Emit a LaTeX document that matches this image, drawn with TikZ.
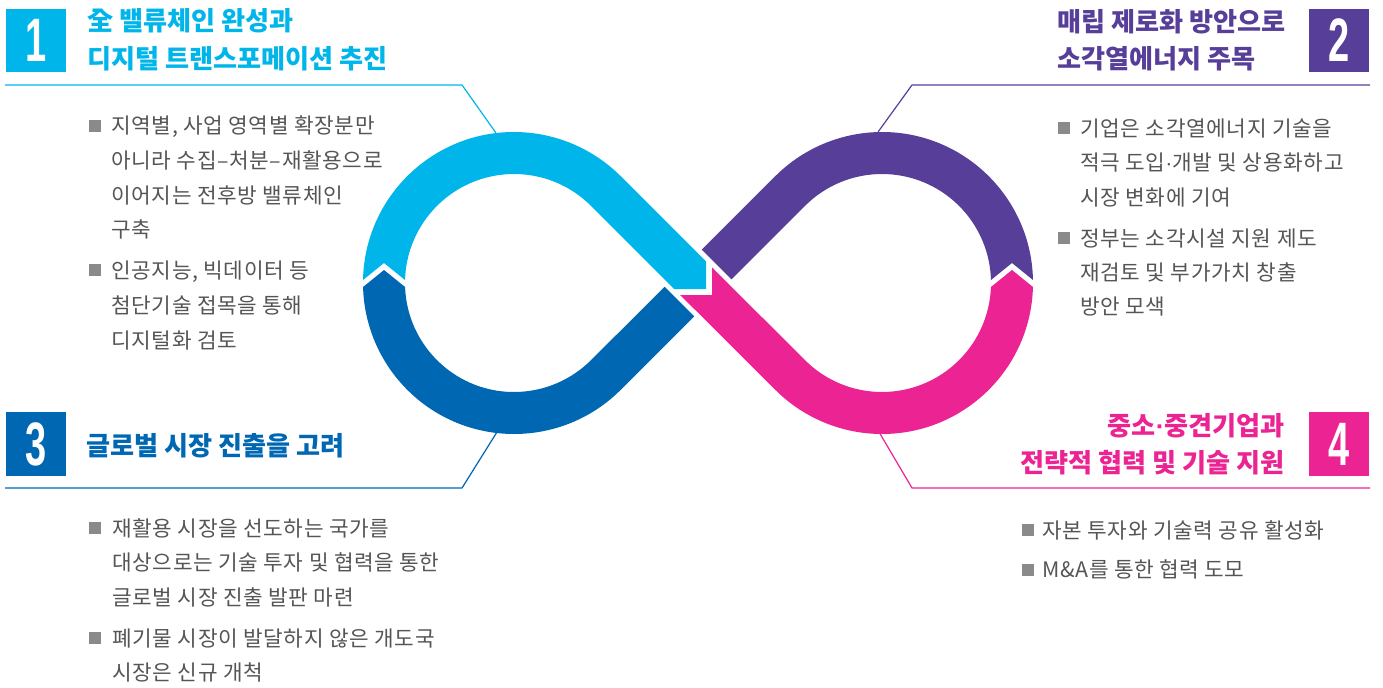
\documentclass[tikz,border=0pt]{standalone}
\usepackage{fontspec}
\usepackage{graphicx}
\setmainfont{Noto Sans CJK KR}
\newfontfamily\bodyfont{Noto Sans CJK KR}[LetterSpace=3]
\newfontfamily\numfont{Liberation Sans}
\newfontfamily\latinfont{Liberation Sans}
\newcommand{\mdot}{{\latinfont ·}}
\definecolor{ccyan}{HTML}{00B5E9}
\definecolor{cpurple}{HTML}{573E98}
\definecolor{cblue}{HTML}{0067B3}
\definecolor{cpink}{HTML}{EC2392}
\definecolor{bodytext}{HTML}{555555}
\definecolor{bulletgray}{HTML}{8A8A8C}
\newcommand{\numtxt}[1]{{\numfont\bfseries\fontsize{46}{46}\selectfont\scalebox{0.62}[1]{#1}}}
\begin{document}
\begin{tikzpicture}[x=0.75pt,y=0.75pt,
  body/.style={anchor=base west, inner sep=0, text=bodytext, font=\bodyfont\fontsize{16}{19}\selectfont},
  ttl/.style={anchor=base west, inner sep=0, font=\fontsize{19.6}{23}\selectfont\bfseries},
  ttlr/.style={ttl, anchor=base east},
  sq/.style={fill=bulletgray, minimum size=8.4pt, inner sep=0, anchor=center},
  numbox/.style={minimum width=45pt, minimum height=47.5pt, inner sep=0, text=white, anchor=center},
  lead/.style={line width=0.9pt}
]
\useasboundingbox (0,0) rectangle (1383,687);

% leader lines
\coordinate (c1a) at (5,602); \coordinate (c1b) at (462,602); \coordinate (c1c) at (496,554);
\coordinate (c2a) at (1370,602); \coordinate (c2b) at (912,602); \coordinate (c2c) at (878,555);
\coordinate (c3a) at (5,199); \coordinate (c3b) at (462,199); \coordinate (c3c) at (497,255);
\coordinate (c4a) at (1370,199); \coordinate (c4b) at (912,199); \coordinate (c4c) at (879,255);
\draw[lead, ccyan] (c1a) -- (c1b) -- (c1c);
\draw[lead, cpurple] (c2a) -- (c2b) -- (c2c);
\draw[lead, cblue] (c3a) -- (c3b) -- (c3c);
\draw[lead, cpink] (c4a) -- (c4b) -- (c4c);

% infinity bands
\fill[ccyan] (363,407) arc[start angle=178.86, end angle=45, radius=151] -- (706,425.6) -- (706,398) -- (674.2,398) -- (591.07,481.07) arc[start angle=45, end angle=178.42, radius=109] -- (384,424) -- cycle;
\fill[cpink] (680.2,392) -- (712,392) -- (712,419.6) -- (804.93,326.93) arc[start angle=225, end angle=357.9, radius=109] -- (1012,417) -- (1032.95,400) arc[start angle=358.48, end angle=225, radius=151] -- cycle;
\fill[cpurple] (1032.97,407) arc[start angle=1.14, end angle=135, radius=151] -- (701.7,437.3) -- (731.4,407.6) -- (804.93,481.07) arc[start angle=135, end angle=1.58, radius=109] -- (1012,424) -- cycle;
\fill[cblue] (664.6,400.2) -- (694.2,370.6) -- (620.77,297.23) arc[start angle=315, end angle=181.52, radius=151] -- (384,417) -- (405.07,400) arc[start angle=182.1, end angle=315, radius=109] -- cycle;

% number boxes
\node[numbox, fill=ccyan] (n1) at (36,646.5) {\numtxt{1}};
\node[numbox, fill=cpurple] (n2) at (1339,646.5) {\numtxt{2}};
\node[numbox, fill=cblue] (n3) at (36,243) {\numtxt{3}};
\node[numbox, fill=cpink] (n4) at (1339,243) {\numtxt{4}};

% titles
\node[ttl, text=ccyan] (t1a) at (87,656) {全 밸류체인 완성과};
\node[ttl, text=ccyan] (t1b) at (87,618) {디지털 트랜스포메이션 추진};
\node[ttl, text=cpurple] (t2a) at (1057,655) {매립 제로화 방안으로};
\node[ttl, text=cpurple] (t2b) at (1057,618) {소각열에너지 주목};
\node[ttl, text=cblue] (t3a) at (86,232) {글로벌 시장 진출을 고려};
\node[ttlr, text=cpink] (t4a) at (1285,252) {중소\mdot 중견기업과};
\node[ttlr, text=cpink] (t4b) at (1285,215) {전략적 협력 및 기술 지원};

% block 1
\node[sq] (s11) at (95,561) {};
\node[body] (b11) at (111,554) {지역별, 사업 영역별 확장분만};
\node[body] (b12) at (111,519) {아니라 수집–처분–재활용으로};
\node[body] (b13) at (111,484) {이어지는 전후방 밸류체인};
\node[body] (b14) at (111,450) {구축};
\node[sq] (s12) at (95,417) {};
\node[body] (b15) at (111,409) {인공지능, 빅데이터 등};
\node[body] (b16) at (111,374) {첨단기술 접목을 통해};
\node[body] (b17) at (111,339) {디지털화 검토};

% block 2
\node[sq] (s21) at (1064,559) {};
\node[body] (b21) at (1080,551) {기업은 소각열에너지 기술을};
\node[body] (b22) at (1080,517) {적극 도입\mdot 개발 및 상용화하고};
\node[body] (b23) at (1080,482) {시장 변화에 기여};
\node[sq] (s22) at (1064,449) {};
\node[body] (b24) at (1080,441) {정부는 소각시설 지원 제도};
\node[body] (b25) at (1080,407) {재검토 및 부가가치 창출};
\node[body] (b26) at (1080,373) {방안 모색};

% block 3
\node[sq] (s31) at (95,159) {};
\node[body] (b31) at (112,151) {재활용 시장을 선도하는 국가를};
\node[body] (b32) at (112,117) {대상으로는 기술 투자 및 협력을 통한};
\node[body] (b33) at (112,82) {글로벌 시장 진출 발판 마련};
\node[sq] (s32) at (95,49) {};
\node[body] (b34) at (112,41) {폐기물 시장이 발달하지 않은 개도국};
\node[body] (b35) at (112,7) {시장은 신규 개척};

% block 4
\node[sq] (s41) at (1028,157) {};
\node[body] (b41) at (1042,149) {자본 투자와 기술력 공유 활성화};
\node[sq] (s42) at (1028,117) {};
\node[body] (b42) at (1042,110) {M\&A를 통한 협력 도모};
\end{tikzpicture}
\end{document}
